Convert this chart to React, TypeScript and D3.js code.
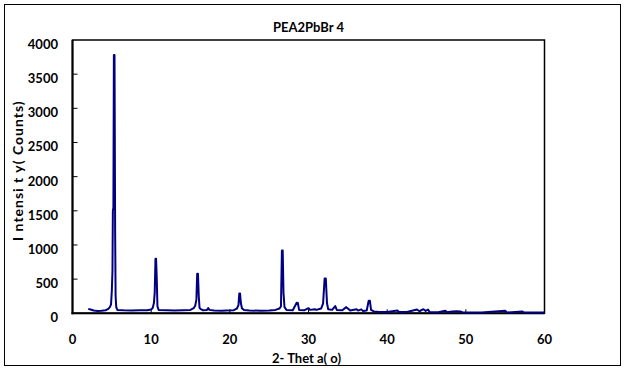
import React, { useEffect, useRef } from 'react';
import * as d3 from 'd3';

// XRD pattern (2-theta in degrees, intensity in counts)
const twoTheta = [
  2.0, 2.3, 2.7, 3.2, 3.7, 4.2, 4.5, 4.75, 4.9, 5.0, 5.08, 5.13, 5.2, 5.26, 5.34, 5.42, 5.48, 5.56, 5.7,
  6.5, 7.5, 8.5, 9.5, 10.0, 10.2, 10.35, 10.45, 10.55, 10.62, 10.7, 10.8, 10.95,
  12, 13, 14, 15.0, 15.4, 15.6, 15.75, 15.85, 15.95, 16.05, 16.15, 16.3, 16.6, 17.1, 17.25, 17.4,
  18, 19, 19.5, 20.5, 20.9, 21.1, 21.2, 21.3, 21.4, 21.55, 21.8, 22.5, 24, 25, 25.8, 26.3, 26.5,
  26.62, 26.72, 26.82, 26.95, 27.2, 28.0, 28.5, 28.65, 28.8, 29.5, 30.0, 30.2, 30.8, 31.0, 31.6,
  31.85, 32.05, 32.2, 32.35, 32.5, 33.0, 33.4, 33.6, 34.3, 34.8, 35.0, 35.3, 36.1, 36.3, 36.7, 36.9,
  37.4, 37.65, 37.8, 37.95, 38.3, 39, 40, 41.3, 41.5, 42.5, 43.8, 44.1, 44.6, 44.9, 45.2, 45.4,
  46.5, 47.4, 47.6, 48.3, 48.8, 49.3, 49.6, 52, 55.0, 55.2, 57.2, 57.4, 60
];
const counts = [
  65, 55, 40, 35, 38, 45, 60, 90, 130, 330, 620, 1500, 1550, 3780, 3780, 1200, 250, 90, 50,
  45, 42, 45, 45, 55, 80, 150, 300, 800, 800, 550, 100, 50,
  45, 42, 45, 50, 75, 110, 200, 580, 580, 250, 80, 60, 45, 50, 75, 50,
  40, 38, 40, 45, 70, 120, 290, 290, 150, 70, 50, 40, 38, 42, 50, 70, 100,
  920, 920, 300, 90, 50, 45, 155, 150, 50, 45, 75, 50, 60, 50, 70,
  140, 510, 510, 150, 60, 50, 105, 50, 45, 90, 70, 40, 58, 40, 58, 35,
  40, 184, 184, 50, 28, 20, 20, 40, 20, 18, 55, 30, 60, 35, 55, 20,
  15, 38, 15, 28, 30, 28, 12, 12, 38, 12, 25, 10, 10
];
const xTicks = [0, 10, 20, 30, 40, 50, 60];
const yTicks = [0, 500, 1000, 1500, 2000, 2500, 3000, 3500, 4000];

const W = 626;
const H = 370;
const font = 'Lato, "Open Sans", sans-serif';

export default function App() {
  const ref = useRef<SVGSVGElement>(null);

  useEffect(() => {
    const svg = d3.select(ref.current);
    svg.selectAll('*').remove();

    const left = 72.5, right = 544.5, top = 40, bottom = 313.3;
    const x = d3.scaleLinear().domain([0, 60]).range([left, right]);
    const y = d3.scaleLinear().domain([0, 4000]).range([bottom, top]);

    // outer chart frame
    svg.append('rect')
      .attr('x', 4.5).attr('y', 4.5).attr('width', 616).attr('height', 361)
      .attr('fill', '#fff').attr('stroke', '#000').attr('stroke-width', 1);

    // plot area frame
    svg.append('rect')
      .attr('x', left).attr('y', top).attr('width', right - left).attr('height', bottom - top)
      .attr('fill', 'none').attr('stroke', '#000').attr('stroke-width', 1.5);
    svg.append('line').attr('x1', left).attr('x2', left).attr('y1', top).attr('y2', bottom + 1)
      .attr('stroke', '#000').attr('stroke-width', 2);
    svg.append('line').attr('x1', left - 1).attr('x2', right).attr('y1', bottom).attr('y2', bottom)
      .attr('stroke', '#000').attr('stroke-width', 2);

    // ticks pointing inward
    svg.append('g').selectAll('line').data(yTicks.slice(1, -1)).join('line')
      .attr('x1', left).attr('x2', left + 5)
      .attr('y1', d => y(d)).attr('y2', d => y(d))
      .attr('stroke', '#000').attr('stroke-width', 1);
    svg.append('g').selectAll('line').data(xTicks.slice(1, -1)).join('line')
      .attr('x1', d => x(d)).attr('x2', d => x(d))
      .attr('y1', bottom).attr('y2', bottom - 4)
      .attr('stroke', '#000').attr('stroke-width', 1);

    // tick labels
    svg.append('g').selectAll('text').data(yTicks).join('text')
      .attr('x', 58).attr('y', d => y(d) + 9)
      .attr('text-anchor', 'end')
      .style('font-family', font).style('font-weight', 'bold').style('font-size', '13px')
      .text(d => d);
    svg.append('g').selectAll('text').data(xTicks).join('text')
      .attr('x', d => x(d)).attr('y', 344)
      .attr('text-anchor', 'middle')
      .style('font-family', font).style('font-weight', 'bold').style('font-size', '13px')
      .text(d => d);

    // pattern
    const pts: [number, number][] = twoTheta.map((t, i) => [t, counts[i]]);
    const line = d3.line<[number, number]>().x(d => x(d[0])).y(d => y(d[1]));
    svg.append('path')
      .datum(pts)
      .attr('d', line)
      .attr('fill', 'none')
      .attr('stroke', '#000080')
      .attr('stroke-width', 2)
      .attr('stroke-linejoin', 'round');

    // titles
    svg.append('text')
      .attr('x', (left + right) / 2).attr('y', 32)
      .attr('text-anchor', 'middle')
      .style('font-family', font).style('font-weight', 'bold').style('font-size', '13px')
      .text('PEA2PbBr 4');
    svg.append('text')
      .attr('x', (left + right) / 2 - 2).attr('y', 363)
      .attr('text-anchor', 'middle')
      .style('font-family', font).style('font-weight', 'bold').style('font-size', '13px')
      .text('2- Thet a( o)');
    svg.append('text')
      .attr('transform', `translate(23,${(top + bottom) / 2 - 6}) rotate(-90)`)
      .attr('text-anchor', 'middle')
      .style('font-family', font).style('font-weight', 'bold').style('font-size', '14px')
      .style('letter-spacing', '1px')
      .text('I ntensi t y( Counts)');
  }, []);

  return (
    <svg ref={ref} width={W} height={H}
      style={{ position: 'absolute', left: 0, top: 0, background: '#fff' }} />
  );
}
